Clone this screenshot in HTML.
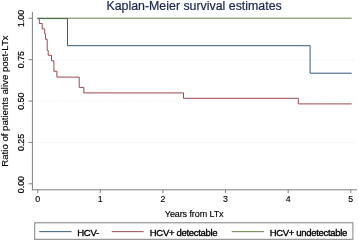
<!DOCTYPE html>
<html>
<head>
<meta charset="utf-8">
<title>Kaplan-Meier survival estimates</title>
<style>
html,body{margin:0;padding:0;background:#fff;}
body{width:359px;height:242px;overflow:hidden;}
svg{display:block;}
text{font-family:"Liberation Sans",Arial,Helvetica,sans-serif;}
</style>
</head>
<body>
<svg width="359" height="242" viewBox="0 0 359 242">
<rect x="0" y="0" width="359" height="242" fill="#ffffff"/>
<!-- grid -->
<g stroke="#e3ecf4" stroke-width="0.8" stroke-dasharray="1 1.4" fill="none">
<line x1="33" y1="59.70" x2="357" y2="59.70"/>
<line x1="33" y1="101.05" x2="357" y2="101.05"/>
<line x1="33" y1="142.40" x2="357" y2="142.40"/>
</g>
<!-- axes -->
<g stroke="#7f7f7f" stroke-width="1" fill="none">
<line x1="32.4" y1="12" x2="32.4" y2="190.3"/>
<line x1="31.9" y1="189.8" x2="357" y2="189.8"/>
<line x1="28.6" y1="18.30" x2="32.4" y2="18.30"/>
<line x1="28.6" y1="59.70" x2="32.4" y2="59.70"/>
<line x1="28.6" y1="101.05" x2="32.4" y2="101.05"/>
<line x1="28.6" y1="142.40" x2="32.4" y2="142.40"/>
<line x1="28.6" y1="183.80" x2="32.4" y2="183.80"/>
<line x1="37.70" y1="189.8" x2="37.70" y2="193.1"/>
<line x1="100.32" y1="189.8" x2="100.32" y2="193.1"/>
<line x1="162.94" y1="189.8" x2="162.94" y2="193.1"/>
<line x1="225.56" y1="189.8" x2="225.56" y2="193.1"/>
<line x1="288.18" y1="189.8" x2="288.18" y2="193.1"/>
<line x1="350.80" y1="189.8" x2="350.80" y2="193.1"/>
</g>
<!-- curves -->
<g fill="none" stroke-width="0.9" stroke-linejoin="miter">
<path stroke="#1a476f" d="M37.5 18.6H67.5V45.7H310.1V73.2H351.7"/>
<path stroke="#90353b" d="M39.3 18.3V23.5H42.2V28.9H44.7V33.9H45.6V39.3H47.2V50.4H48.2V55.3H51.5V60.8H53.9V71.3H56.9V77.1H79.2V87.4H83.8V92.9H183.5V98.3H298.3V103.9H351.7"/>
<path stroke="#55752f" d="M37.2 18.2H351.7"/>
</g>
<!-- title -->
<text x="194.1" y="10.3" font-size="12.3" text-anchor="middle" fill="#19254e" stroke="#19254e" stroke-width="0.2" textLength="175.3" lengthAdjust="spacingAndGlyphs">Kaplan-Meier survival estimates</text>
<!-- y labels -->
<g font-size="8.85" fill="#000" stroke="#000" stroke-width="0.2" text-anchor="middle">
<text transform="translate(24.3,18.4) rotate(-90)">1.00</text>
<text transform="translate(24.3,59.6) rotate(-90)">0.75</text>
<text transform="translate(24.3,101.2) rotate(-90)">0.50</text>
<text transform="translate(24.3,142.5) rotate(-90)">0.25</text>
<text transform="translate(24.3,184.6) rotate(-90)">0.00</text>
</g>
<text transform="translate(7.9,101.05) rotate(-90)" font-size="9.6" text-anchor="middle" fill="#000" stroke="#000" stroke-width="0.15" textLength="131.3" lengthAdjust="spacingAndGlyphs">Ratio of patients alive post-LTx</text>
<!-- x labels -->
<g font-size="8.8" fill="#000" stroke="#000" stroke-width="0.12" text-anchor="middle">
<text x="37.70" y="202.1">0</text>
<text x="100.32" y="202.1">1</text>
<text x="162.94" y="202.1">2</text>
<text x="225.56" y="202.1">3</text>
<text x="288.18" y="202.1">4</text>
<text x="350.80" y="202.1">5</text>
</g>
<text x="194.2" y="216.6" font-size="9" text-anchor="middle" fill="#000" stroke="#000" stroke-width="0.15" textLength="58.8" lengthAdjust="spacing">Years from LTx</text>
<!-- legend -->
<rect x="34.7" y="222.8" width="318.2" height="16.5" fill="#fff" stroke="#808080" stroke-width="1"/>
<g fill="none" stroke-width="0.9">
<line x1="39.2" y1="231.65" x2="71.6" y2="231.65" stroke="#1a476f"/>
<line x1="111.7" y1="231.65" x2="143.6" y2="231.65" stroke="#90353b"/>
<line x1="231.7" y1="231.65" x2="264.1" y2="231.65" stroke="#55752f"/>
</g>
<g font-size="9.5" fill="#000" stroke="#000" stroke-width="0.35">
<text x="77.3" y="235.6" textLength="21.8" lengthAdjust="spacing">HCV-</text>
<text x="149.8" y="235.6" textLength="67.7" lengthAdjust="spacing">HCV+ detectable</text>
<text x="269.7" y="235.6" textLength="77.6" lengthAdjust="spacing">HCV+ undetectable</text>
</g>
</svg>
</body>
</html>
